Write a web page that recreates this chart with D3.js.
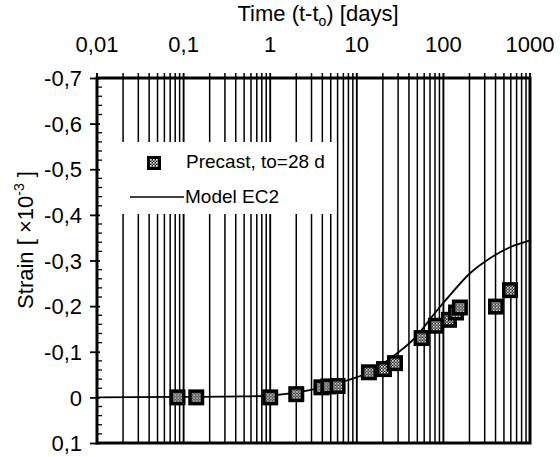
<!DOCTYPE html>
<html>
<head>
<meta charset="utf-8">
<script src="https://cdn.jsdelivr.net/npm/d3@7"></script>
<style>
  body { margin: 0; background: #fff; }
  svg text { font-family: "Liberation Sans", Arial, Helvetica, sans-serif; fill: #000; }
</style>
</head>
<body>
<div id="chart"></div>
<script>
// Measured strain (Precast, to=28 d)
const timeDays = [0.085, 0.14, 1, 2, 3.9, 4.7, 6, 13.8, 20.6, 27.6, 56, 82, 116, 140, 155, 405, 588];
const strainMeasured = [0, 0, 0, -0.007, -0.022, -0.024, -0.025, -0.055, -0.062, -0.075, -0.13, -0.157, -0.17, -0.186, -0.197, -0.199, -0.235];

// Model EC2 curve
const modelDays = [0.01, 0.1, 0.5, 1, 2.2, 4, 7.7, 13, 29, 50, 76, 119, 203, 345, 588, 1000];
const modelStrain = [0, -0.001, -0.002, -0.004, -0.012, -0.022, -0.037, -0.053, -0.096, -0.136, -0.18, -0.224, -0.272, -0.305, -0.329, -0.344];

const xTicks = [0.01, 0.1, 1, 10, 100, 1000];
const yTicks = [-0.7, -0.6, -0.5, -0.4, -0.3, -0.2, -0.1, 0, 0.1];

const width = 560, height = 457;
const plot = { left: 97, right: 530, top: 78, bottom: 443 };

const fmt = d => String(+d.toFixed(2)).replace(".", ",");

const x = d3.scaleLog().domain([0.01, 1000]).range([plot.left, plot.right]);
const y = d3.scaleLinear().domain([-0.7, 0.1]).range([plot.top, plot.bottom]);

const svg = d3.select("#chart").append("svg")
  .attr("width", width).attr("height", height);

// dotted pattern for markers
const defs = svg.append("defs");
const pat = defs.append("pattern")
  .attr("id", "hatch").attr("width", 3).attr("height", 3)
  .attr("patternUnits", "userSpaceOnUse");
pat.append("rect").attr("width", 3).attr("height", 3).attr("fill", "#111");
pat.append("rect").attr("width", 1.6).attr("height", 1.6).attr("fill", "#fff");
pat.append("rect").attr("x", 1.5).attr("y", 1.5).attr("width", 1.5).attr("height", 1.5).attr("fill", "#bbb");

// vertical grid lines at every log tick
const gridVals = [];
for (let e = -2; e < 3; e++) {
  for (let m = 1; m <= 9; m++) gridVals.push(m * Math.pow(10, e));
}
gridVals.push(1000);

svg.append("g").selectAll("line")
  .data(gridVals)
  .join("line")
  .attr("x1", d => x(d)).attr("x2", d => x(d))
  .attr("y1", plot.top - 5).attr("y2", plot.bottom)
  .attr("stroke", "#000")
  .attr("stroke-width", d => (Math.abs(Math.log10(d) % 1) < 1e-9 ? 1.9 : 1.5));

// legend background covers the grid
svg.append("rect")
  .attr("x", plot.left + 1.5).attr("y", 142)
  .attr("width", 238).attr("height", 72)
  .attr("fill", "#fff");

// model line
const line = d3.line()
  .x((d, i) => x(modelDays[i]))
  .y(d => y(d))
  .curve(d3.curveMonotoneX);

svg.append("path")
  .datum(modelStrain)
  .attr("d", line)
  .attr("fill", "none")
  .attr("stroke", "#000")
  .attr("stroke-width", 1.8);

// frame
svg.append("rect")
  .attr("x", plot.left).attr("y", plot.top)
  .attr("width", plot.right - plot.left).attr("height", plot.bottom - plot.top)
  .attr("fill", "none").attr("stroke", "#000").attr("stroke-width", 3);

// top axis (labels only, ticks are the grid)
svg.append("g")
  .selectAll("text")
  .data(xTicks)
  .join("text")
  .attr("x", d => x(d)).attr("y", 52)
  .attr("text-anchor", "middle")
  .attr("font-size", 22)
  .text(d => fmt(d));

// left axis
const yAxis = svg.append("g")
  .attr("transform", `translate(${plot.left},0)`)
  .call(d3.axisLeft(y).tickValues(yTicks).tickSize(7).tickFormat(fmt));
yAxis.select(".domain").remove();
yAxis.selectAll("line").attr("stroke-width", 1.8).attr("x2", -7).attr("x1", 3);
yAxis.selectAll("text")
  .attr("font-size", 22).attr("x", -15).attr("dy", "0.35em")
  .style("font-family", '"Liberation Sans", Arial, sans-serif');

// minor y ticks (inside)
const minorY = d3.range(-0.7, 0.1001, 0.02).filter(v => Math.abs(Math.round(v * 10) - v * 10) > 1e-6);
svg.append("g").selectAll("line")
  .data(minorY)
  .join("line")
  .attr("x1", plot.left).attr("x2", plot.left + 5)
  .attr("y1", d => y(d)).attr("y2", d => y(d))
  .attr("stroke", "#000").attr("stroke-width", 1.3);

// measured points
svg.append("g").selectAll("g")
  .data(strainMeasured)
  .join("g")
  .attr("transform", (d, i) => `translate(${x(timeDays[i])},${y(d)})`)
  .each(function () {
    const g = d3.select(this);
    g.append("rect").attr("x", -8).attr("y", -8).attr("width", 16).attr("height", 16).attr("fill", "#000");
    g.append("rect").attr("x", -4.5).attr("y", -4.5).attr("width", 9).attr("height", 9).attr("fill", "url(#hatch)");
  });

// legend
const lg = svg.append("g");
lg.append("rect").attr("x", 147).attr("y", 156).attr("width", 14).attr("height", 14).attr("fill", "#000");
lg.append("rect").attr("x", 150).attr("y", 159).attr("width", 8).attr("height", 8).attr("fill", "url(#hatch)");
lg.append("text").attr("x", 186).attr("y", 168).attr("font-size", 19).text("Precast, to=28 d");
lg.append("line").attr("x1", 130).attr("x2", 184).attr("y1", 197).attr("y2", 197)
  .attr("stroke", "#000").attr("stroke-width", 1.4);
lg.append("text").attr("x", 185).attr("y", 203).attr("font-size", 19).text("Model EC2");

// axis titles
const xt = svg.append("text")
  .attr("x", 318).attr("y", 21)
  .attr("text-anchor", "middle")
  .attr("font-size", 22);
xt.append("tspan").text("Time (t-t");
xt.append("tspan").attr("font-size", 14).attr("dy", 5).text("o");
xt.append("tspan").attr("dy", -5).text(") [days]");

const yt = svg.append("text")
  .attr("transform", "translate(33,240) rotate(-90)")
  .attr("text-anchor", "middle")
  .attr("font-size", 22);
yt.append("tspan").text("Strain [ ×10");
yt.append("tspan").attr("font-size", 14).attr("dy", -9).text("-3");
yt.append("tspan").attr("dy", 9).text(" ]");
</script>
</body>
</html>
